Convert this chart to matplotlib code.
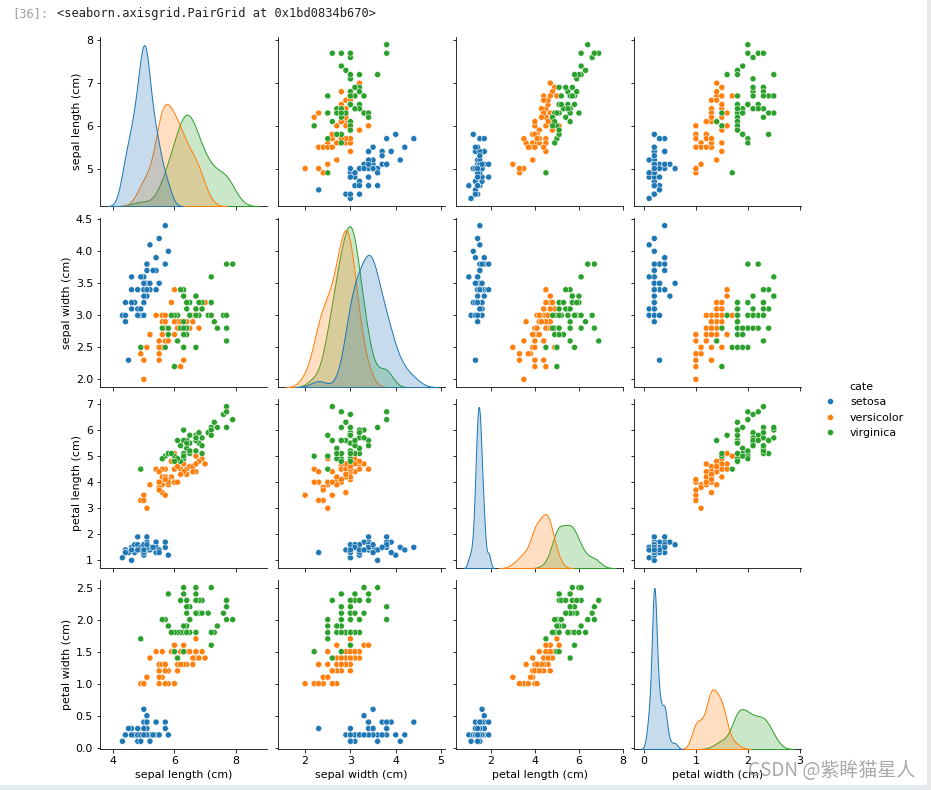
import matplotlib
matplotlib.use("Agg")
import matplotlib.pyplot as plt
import pandas as pd
import seaborn as sns

# ---- iris measurements (sepal length, sepal width, petal length, petal width) ----
setosa_sl = [5.1, 4.9, 4.7, 4.6, 5.0, 5.4, 4.6, 5.0, 4.4, 4.9, 5.4, 4.8, 4.8, 4.3, 5.8, 5.7, 5.4,
             5.1, 5.7, 5.1, 5.4, 5.1, 4.6, 5.1, 4.8, 5.0, 5.0, 5.2, 5.2, 4.7, 4.8, 5.4, 5.2, 5.5,
             4.9, 5.0, 5.5, 4.9, 4.4, 5.1, 5.0, 4.5, 4.4, 5.0, 5.1, 4.8, 5.1, 4.6, 5.3, 5.0]
setosa_sw = [3.5, 3.0, 3.2, 3.1, 3.6, 3.9, 3.4, 3.4, 2.9, 3.1, 3.7, 3.4, 3.0, 3.0, 4.0, 4.4, 3.9,
             3.5, 3.8, 3.8, 3.4, 3.7, 3.6, 3.3, 3.4, 3.0, 3.4, 3.5, 3.4, 3.2, 3.1, 3.4, 4.1, 4.2,
             3.1, 3.2, 3.5, 3.6, 3.0, 3.4, 3.5, 2.3, 3.2, 3.5, 3.8, 3.0, 3.8, 3.2, 3.7, 3.3]
setosa_pl = [1.4, 1.4, 1.3, 1.5, 1.4, 1.7, 1.4, 1.5, 1.4, 1.5, 1.5, 1.6, 1.4, 1.1, 1.2, 1.5, 1.3,
             1.4, 1.7, 1.5, 1.7, 1.5, 1.0, 1.7, 1.9, 1.6, 1.6, 1.5, 1.4, 1.6, 1.6, 1.5, 1.5, 1.4,
             1.5, 1.2, 1.3, 1.4, 1.3, 1.5, 1.3, 1.3, 1.3, 1.6, 1.9, 1.4, 1.6, 1.4, 1.5, 1.4]
setosa_pw = [0.2, 0.2, 0.2, 0.2, 0.2, 0.4, 0.3, 0.2, 0.2, 0.1, 0.2, 0.2, 0.1, 0.1, 0.2, 0.4, 0.4,
             0.3, 0.3, 0.3, 0.2, 0.4, 0.2, 0.5, 0.2, 0.2, 0.4, 0.2, 0.2, 0.2, 0.2, 0.4, 0.1, 0.2,
             0.2, 0.2, 0.2, 0.1, 0.2, 0.2, 0.3, 0.3, 0.2, 0.6, 0.4, 0.3, 0.2, 0.2, 0.2, 0.2]

versicolor_sl = [7.0, 6.4, 6.9, 5.5, 6.5, 5.7, 6.3, 4.9, 6.6, 5.2, 5.0, 5.9, 6.0, 6.1, 5.6, 6.7,
                 5.6, 5.8, 6.2, 5.6, 5.9, 6.1, 6.3, 6.1, 6.4, 6.6, 6.8, 6.7, 6.0, 5.7, 5.5, 5.5,
                 5.8, 6.0, 5.4, 6.0, 6.7, 6.3, 5.6, 5.5, 5.5, 6.1, 5.8, 5.0, 5.6, 5.7, 5.7, 6.2,
                 5.1, 5.7]
versicolor_sw = [3.2, 3.2, 3.1, 2.3, 2.8, 2.8, 3.3, 2.4, 2.9, 2.7, 2.0, 3.0, 2.2, 2.9, 2.9, 3.1,
                 3.0, 2.7, 2.2, 2.5, 3.2, 2.8, 2.5, 2.8, 2.9, 3.0, 2.8, 3.0, 2.9, 2.6, 2.4, 2.4,
                 2.7, 2.7, 3.0, 3.4, 3.1, 2.3, 3.0, 2.5, 2.6, 3.0, 2.6, 2.3, 2.7, 3.0, 2.9, 2.9,
                 2.5, 2.8]
versicolor_pl = [4.7, 4.5, 4.9, 4.0, 4.6, 4.5, 4.7, 3.3, 4.6, 3.9, 3.5, 4.2, 4.0, 4.7, 3.6, 4.4,
                 4.5, 4.1, 4.5, 3.9, 4.8, 4.0, 4.9, 4.7, 4.3, 4.4, 4.8, 5.0, 4.5, 3.5, 3.8, 3.7,
                 3.9, 5.1, 4.5, 4.5, 4.7, 4.4, 4.1, 4.0, 4.4, 4.6, 4.0, 3.3, 4.2, 4.2, 4.2, 4.3,
                 3.0, 4.1]
versicolor_pw = [1.4, 1.5, 1.5, 1.3, 1.5, 1.3, 1.6, 1.0, 1.3, 1.4, 1.0, 1.5, 1.0, 1.4, 1.3, 1.4,
                 1.5, 1.0, 1.5, 1.1, 1.8, 1.3, 1.5, 1.2, 1.3, 1.4, 1.4, 1.7, 1.5, 1.0, 1.1, 1.0,
                 1.2, 1.6, 1.5, 1.6, 1.5, 1.3, 1.3, 1.3, 1.2, 1.4, 1.2, 1.0, 1.3, 1.2, 1.3, 1.3,
                 1.1, 1.3]

virginica_sl = [6.3, 5.8, 7.1, 6.3, 6.5, 7.6, 4.9, 7.3, 6.7, 7.2, 6.5, 6.4, 6.8, 5.7, 5.8, 6.4,
                6.5, 7.7, 7.7, 6.0, 6.9, 5.6, 7.7, 6.3, 6.7, 7.2, 6.2, 6.1, 6.4, 7.2, 7.4, 7.9,
                6.4, 6.3, 6.1, 7.7, 6.3, 6.4, 6.0, 6.9, 6.7, 6.9, 5.8, 6.8, 6.7, 6.7, 6.3, 6.5,
                6.2, 5.9]
virginica_sw = [3.3, 2.7, 3.0, 2.9, 3.0, 3.0, 2.5, 2.9, 2.5, 3.6, 3.2, 2.7, 3.0, 2.5, 2.8, 3.2,
                3.0, 3.8, 2.6, 2.2, 3.2, 2.8, 2.8, 2.7, 3.3, 3.2, 2.8, 3.0, 2.8, 3.0, 2.8, 3.8,
                2.8, 2.8, 2.6, 3.0, 3.4, 3.1, 3.0, 3.1, 3.1, 3.1, 2.7, 3.2, 3.3, 3.0, 2.5, 3.0,
                3.4, 3.0]
virginica_pl = [6.0, 5.1, 5.9, 5.6, 5.8, 6.6, 4.5, 6.3, 5.8, 6.1, 5.1, 5.3, 5.5, 5.0, 5.1, 5.3,
                5.5, 6.7, 6.9, 5.0, 5.7, 4.9, 6.7, 4.9, 5.7, 6.0, 4.8, 4.9, 5.6, 5.8, 6.1, 6.4,
                5.6, 5.1, 5.6, 6.1, 5.6, 5.5, 4.8, 5.4, 5.6, 5.1, 5.1, 5.9, 5.7, 5.2, 5.0, 5.2,
                5.4, 5.1]
virginica_pw = [2.5, 1.9, 2.1, 1.8, 2.2, 2.1, 1.7, 1.8, 1.8, 2.5, 2.0, 1.9, 2.1, 2.0, 2.4, 2.3,
                1.8, 2.2, 2.3, 1.5, 2.3, 2.0, 2.0, 1.8, 2.1, 1.8, 1.8, 1.8, 2.1, 1.6, 1.9, 2.0,
                2.2, 1.5, 1.4, 2.3, 2.4, 1.8, 1.8, 2.1, 2.4, 2.3, 1.9, 2.3, 2.5, 2.3, 1.9, 2.0,
                2.3, 1.8]

species = ["setosa", "versicolor", "virginica"]
columns = ["sepal length (cm)", "sepal width (cm)", "petal length (cm)", "petal width (cm)"]

# ---- build the frame ----
parts = []
for name, cols in zip(species, [
        (setosa_sl, setosa_sw, setosa_pl, setosa_pw),
        (versicolor_sl, versicolor_sw, versicolor_pl, versicolor_pw),
        (virginica_sl, virginica_sw, virginica_pl, virginica_pw)]):
    part = pd.DataFrame(dict(zip(columns, cols)))
    part["cate"] = name
    parts.append(part)
df = pd.concat(parts, ignore_index=True)

plt.rcParams["font.size"] = 11

# ---- pair plot ----
g = sns.pairplot(df, hue="cate")
fig = g.figure
fig.set_dpi(72)
fig.set_size_inches(931 / 72, 790 / 72)
fig.subplots_adjust(left=100 / 931, right=801 / 931, top=1 - 37 / 790,
                    bottom=1 - 749 / 790, wspace=0.066, hspace=0.07)
g._legend.set_bbox_to_anchor((0.982, 1 - 410 / 790))

# ---- notebook chrome ----
fig.text(12 / 931, 1 - 14 / 790, "[36]:", color="#9e9e9e", fontsize=12,
         family="DejaVu Sans Mono", va="center")
fig.text(57 / 931, 1 - 14 / 790, "<seaborn.axisgrid.PairGrid at 0x1bd0834b670>",
         color="#222222", fontsize=12, family="DejaVu Sans Mono", va="center")
fig.patches.append(plt.Rectangle((0, 0), 1, 5 / 790, transform=fig.transFigure,
                                 color="#e4ebef", zorder=-1))
fig.patches.append(plt.Rectangle((927 / 931, 0), 4 / 931, 1, transform=fig.transFigure,
                                 color="#e8e8e8", zorder=-1))
fig.text(915 / 931, 1 - 770 / 790, "CSDN @紫眸猫星人", color="#9a9a9a", alpha=0.85,
         fontsize=19, ha="right", va="center", family=["Noto Sans CJK SC", "DejaVu Sans"])

fig.savefig("out.png", dpi=72)
